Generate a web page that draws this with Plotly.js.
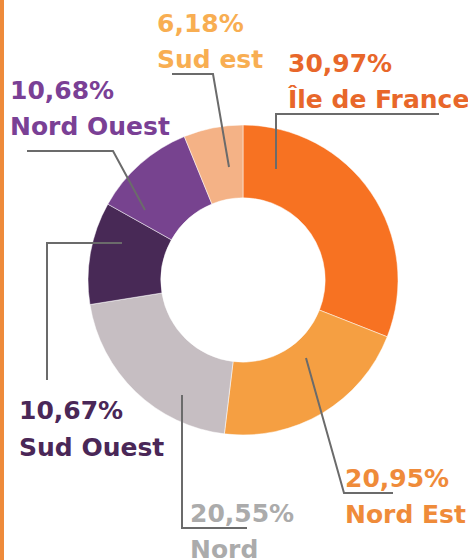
<!DOCTYPE html>
<html>
<head>
<meta charset="utf-8">
<script src="https://cdn.plot.ly/plotly-3.0.1.min.js"></script>
<style>
html,body{margin:0;padding:0;background:#fff;}
#chart{width:468px;height:560px;}
</style>
</head>
<body>
<div id="chart"></div>
<script>
const regions = ["Île de France", "Nord Est", "Nord", "Sud Ouest", "Nord Ouest", "Sud est"];
const shares = [30.97, 20.95, 20.55, 10.67, 10.68, 6.18];
const shareLabels = ["30,97%", "20,95%", "20,55%", "10,67%", "10,68%", "6,18%"];
const sliceColors = ["#F77222", "#F59F42", "#C6BEC2", "#482956", "#77438F", "#F4B286"];
const textColors = ["#E8672A", "#EF8B3A", "#ABABAB", "#4A2757", "#7A4095", "#F8AE52"];

const W = 468, H = 560;
const px = x => x / W;
const py = y => 1 - y / H;

// label positions (pixel coords of left edge, middle of first line)
const labelPos = [
  [287, 63], [344, 478], [189, 513], [18, 411], [9, 91], [156, 24]
];
const lineGap = 36;

const annotations = [];
regions.forEach((r, i) => {
  const [lx, ly] = labelPos[i];
  const f = {family: "DejaVu Sans, sans-serif", size: 25, color: textColors[i], weight: 700};
  annotations.push({xref: "paper", yref: "paper", x: px(lx), y: py(ly), xanchor: "left", yanchor: "middle",
    text: "<b>" + shareLabels[i] + "</b>", showarrow: false, font: f, borderpad: 0});
  annotations.push({xref: "paper", yref: "paper", x: px(lx), y: py(ly + lineGap), xanchor: "left", yanchor: "middle",
    text: "<b>" + r + "</b>", showarrow: false, font: f, borderpad: 0});
});

// leader line polylines (pixel coords)
const leaders = [
  [[276, 169], [276, 114], [439, 114]],
  [[306, 358], [344, 493], [393, 493]],
  [[182, 395], [182, 528], [247, 528]],
  [[122, 243], [47, 243], [47, 380]],
  [[145, 210], [113, 151], [27, 151]],
  [[229, 167], [213, 74], [172, 74]]
];
const shapes = leaders.map(pts => ({
  type: "path", xref: "paper", yref: "paper",
  path: pts.map((p, k) => (k ? "L" : "M") + px(p[0]) + "," + py(p[1])).join(" "),
  line: {color: "#6B6B6B", width: 2}
}));
shapes.push({type: "rect", xref: "paper", yref: "paper", x0: 0, x1: px(4), y0: 0, y1: 1,
  fillcolor: "#EE8A3A", line: {width: 0}});

const cx = 243, cy = 280, R = 155;
const data = [{
  type: "pie",
  labels: regions,
  values: shares,
  hole: 0.53,
  sort: false,
  direction: "clockwise",
  rotation: 0,
  textinfo: "none",
  hoverinfo: "label+percent",
  marker: {colors: sliceColors, line: {color: "#ffffff", width: 0.5}},
  domain: {x: [px(cx - R), px(cx + R)], y: [py(cy + R), py(cy - R)]}
}];

const layout = {
  width: W, height: H,
  margin: {l: 0, r: 0, t: 0, b: 0},
  paper_bgcolor: "#ffffff",
  showlegend: false,
  annotations: annotations,
  shapes: shapes
};

Plotly.newPlot("chart", data, layout, {displayModeBar: false, staticPlot: true});
</script>
</body>
</html>
